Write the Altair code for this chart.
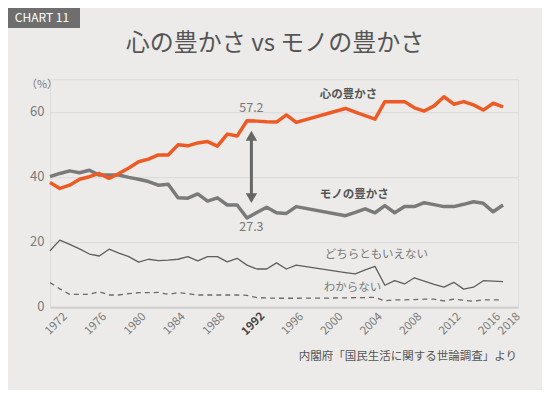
import altair as alt
import pandas as pd

years = list(range(1972, 1998)) + list(range(2002, 2019))
kokoro = [38.2, 36.4, 37.4, 39.2, 40.0, 41.0, 39.5, 41.0, 42.7, 44.6, 45.4, 46.7, 46.7, 49.8, 49.5, 50.4,
          50.8, 49.4, 53.1, 52.5, 57.2, 57.1, 56.9, 56.8, 59.0, 56.7,
          61.0, 59.9, 58.8, 57.7, 63.1, 63.1, 63.1, 61.2, 60.2, 61.8, 64.6, 62.3, 63.1, 62.1, 60.5, 62.6, 61.5]
mono = [40.0, 41.0, 41.8, 41.2, 42.0, 40.5, 40.5, 40.5, 39.8, 39.2, 38.5, 37.4, 37.7, 33.5, 33.4, 34.7,
        32.5, 33.5, 31.3, 31.3, 27.3, 29.0, 30.6, 28.9, 28.7, 30.8,
        28.0, 29.0, 30.1, 28.9, 31.1, 28.9, 30.8, 30.8, 32.0, 31.4, 30.8, 30.8, 31.5, 32.3, 31.8, 29.2, 31.3]
dochira = [17.2, 20.5, 19.2, 17.8, 16.2, 15.6, 17.7, 16.5, 15.4, 13.7, 14.6, 14.2, 14.3, 14.6, 15.4, 14.1,
           15.4, 15.4, 13.8, 14.9, 12.8, 11.6, 11.6, 13.5, 11.6, 12.8,
           10.5, 10.1, 11.3, 12.4, 6.6, 8.0, 7.0, 8.9, 7.9, 6.9, 6.0, 7.5, 5.4, 6.0, 8.0, 7.9, 7.7]
wakaranai = [7.4, 5.5, 3.8, 3.8, 3.8, 4.6, 3.6, 3.6, 4.0, 4.3, 4.3, 4.4, 3.8, 4.3, 4.0, 3.6,
             3.6, 3.6, 3.6, 3.6, 3.5, 2.8, 2.7, 2.6, 2.6, 2.6,
             2.7, 2.8, 2.8, 2.9, 1.8, 2.1, 2.1, 2.2, 2.3, 2.3, 1.8, 2.3, 2.0, 1.7, 2.1, 2.1, 2.1]

x_ticks = [1972, 1976, 1980, 1984, 1988, 1992, 1996, 2000, 2004, 2008, 2012, 2016, 2018]
y_ticks = [0, 20, 40, 60]

series_names = ["心の豊かさ", "モノの豊かさ", "どちらともいえない", "わからない"]
series_vals = [kokoro, mono, dochira, wakaranai]

rows = []
for name, vals in zip(series_names, series_vals):
    for yr, v in zip(years, vals):
        rows.append({"year": yr, "value": v, "series": name})
df = pd.DataFrame(rows)

label_df = pd.DataFrame({
    "year": [1999.4, 1999.4, 1999.9, 1999.8],
    "value": [65.1, 34.4, 15.9, 5.8],
    "text": series_names,
    "kind": ["main", "main", "sub", "sub"],
})
anno_df = pd.DataFrame({"year": [1992.45, 1992.45], "value": [61.1, 24.6], "text": ["57.2", "27.3"]})
arrow_shaft = pd.DataFrame({"year": [1992.45], "value": [51.5], "v2": [34.5]})
arrow_heads = pd.DataFrame({"year": [1992.45, 1992.45], "value": [52.6, 33.4],
                            "shape": ["triangle-up", "triangle-down"]})

FONT = "Noto Sans CJK JP"
GRAY = "#7a7a7a"

xscale = alt.Scale(domain=[1972, 2019.52], nice=False, zero=False)
yscale = alt.Scale(domain=[0, 70], nice=False)

xaxis = alt.Axis(
    values=x_ticks, format="d", labelAngle=-45, labelAlign="center", labelBaseline="middle",
    labelPadding=17, labelOffset=6, ticks=False, domain=False, grid=False, title=None,
    labelOverlap=False, labelBound=False, labelFlush=False,
    labelFontSize=11.5, labelFont=FONT,
    labelColor={"condition": {"test": "datum.value == 1992", "value": "#444444"}, "value": "#7a7a7a"},
    labelFontWeight={"condition": {"test": "datum.value == 1992", "value": "bold"}, "value": "normal"},
)
yaxis = alt.Axis(
    values=y_ticks, ticks=False, domain=False, title=None, labelPadding=6,
    labelFontSize=13, labelColor="#7a7a7a", labelFont=FONT,
    gridColor={"condition": {"test": "datum.value == 0", "value": "#cfcfcf"}, "value": "#dadada"},
    gridWidth={"condition": {"test": "datum.value == 0", "value": 2}, "value": 1},
)
xenc = alt.X("year:Q", scale=xscale, axis=xaxis)
yenc = alt.Y("value:Q", scale=yscale, axis=yaxis)

base = alt.Chart(df)

def line(name, color, width, dash=None):
    kw = dict(color=color, strokeWidth=width, strokeJoin="round")
    if dash:
        kw["strokeDash"] = dash
    return base.transform_filter(alt.datum.series == name).mark_line(**kw).encode(x=xenc, y=yenc)

l_wak = line("わからない", "#6a6a6a", 1.3, [5, 4])
l_doc = line("どちらともいえない", "#5e5e5e", 1.3)
l_mono = line("モノの豊かさ", GRAY, 3.5)
l_koko = line("心の豊かさ", "#EE5A24", 3.5)

labels_main = alt.Chart(label_df).transform_filter(alt.datum.kind == "main").mark_text(
    align="left", baseline="middle", fontSize=11.5, fontWeight="bold", color="#555555", font=FONT
).encode(x=xenc, y=yenc, text="text:N")
labels_sub = alt.Chart(label_df).transform_filter(alt.datum.kind == "sub").mark_text(
    align="left", baseline="middle", fontSize=11.5, color="#7a7a7a", font=FONT
).encode(x=xenc, y=yenc, text="text:N")

anno = alt.Chart(anno_df).mark_text(
    align="center", baseline="middle", fontSize=12.5, color="#777777", font=FONT
).encode(x=xenc, y=yenc, text="text:N")

shaft = alt.Chart(arrow_shaft).mark_rule(color="#666666", strokeWidth=3).encode(
    x=xenc, y=yenc, y2="v2:Q")
heads = alt.Chart(arrow_heads).mark_point(filled=True, size=130, color="#666666", opacity=1).encode(
    x=xenc, y=yenc,
    shape=alt.Shape("shape:N", scale=None))

one = pd.DataFrame({"a": [0]})
badge = alt.Chart(one).mark_rect(color="#6e6e6e").encode(
    x=alt.value(-42), x2=alt.value(30), y=alt.value(-71.2), y2=alt.value(-51.2))
badge_txt = alt.Chart(one).mark_text(
    color="white", fontSize=12, font=FONT, align="center", baseline="middle"
).encode(x=alt.value(-8), y=alt.value(-61), text=alt.value("CHART 11"))
title = alt.Chart(one).mark_text(
    color="#555555", fontSize=24, font=FONT, align="center", baseline="middle"
).encode(x=alt.value(225), y=alt.value(-35), text=alt.value("心の豊かさ vs モノの豊かさ"))
pct = alt.Chart(one).mark_text(
    color="#7a7a7a", fontSize=11, font=FONT, align="center", baseline="middle"
).encode(x=alt.value(-8), y=alt.value(6), text=alt.value("（%）"))
source = alt.Chart(one).mark_text(
    color="#555555", fontSize=11.5, font=FONT, align="right", baseline="middle"
).encode(x=alt.value(467), y=alt.value(278), text=alt.value("内閣府「国民生活に関する世論調査」より"))

chart = alt.layer(
    l_wak, l_doc, l_mono, l_koko, labels_main, labels_sub, anno, shaft, heads,
    badge, badge_txt, title, pct, source
).properties(
    width=468, height=227.5,
    autosize=alt.AutoSizeParams(type="none"),
    padding={"left": 42, "top": 71.2, "right": 24, "bottom": 83.3},
    background="#ECEBE9",
).configure_view(stroke=None).configure(font=FONT).configure_axisX(labelOverlap=False)

chart.save("out.html", embed_options={"renderer": "svg", "actions": False})
